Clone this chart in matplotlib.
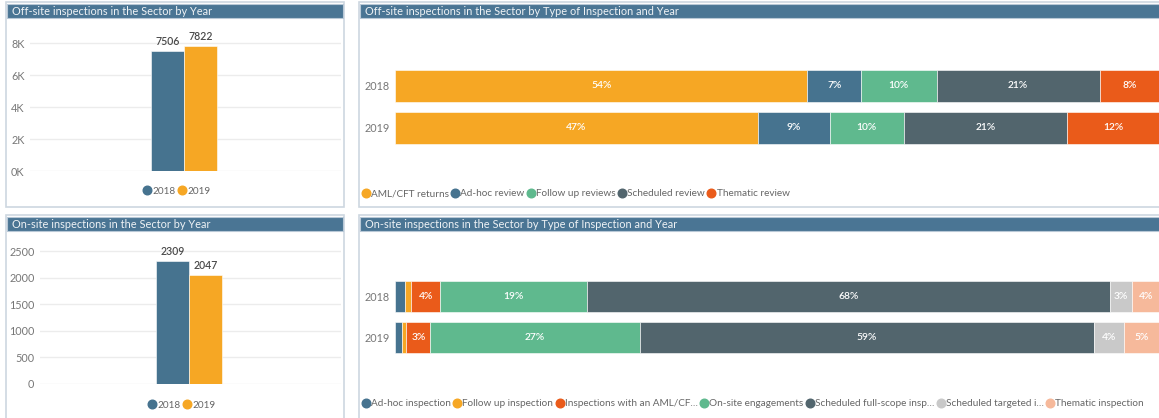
import matplotlib.pyplot as plt
import numpy as np
from matplotlib.patches import Rectangle
from matplotlib.lines import Line2D

# data
years = ['2018', '2019']
offsite_totals = [7506, 7822]
onsite_totals = [2309, 2047]

offsite_types = ['AML/CFT returns', 'Ad-hoc review', 'Follow up reviews', 'Scheduled review', 'Thematic review']
offsite_2018 = [53.9, 7.0, 9.9, 21.3, 7.9]
offsite_2019 = [47.4, 9.4, 9.7, 21.3, 12.2]

onsite_types = ['Ad-hoc inspection', 'Follow up inspection', 'Inspections with an AML/CF\u2026',
                'On-site engagements', 'Scheduled full-scope insp\u2026', 'Scheduled targeted i\u2026',
                'Thematic inspection']
onsite_2018 = [1.3, 0.8, 3.8, 19.2, 68.3, 2.9, 3.7]
onsite_2019 = [0.9, 0.6, 3.1, 27.4, 59.4, 3.9, 4.7]

BLUE = '#46738f'
ORANGE = '#f6a724'
GREEN = '#5fb98e'
SLATE = '#52656d'
RED = '#ea5b1a'
LGRAY = '#c9c9c9'
PEACH = '#f6b99b'
TITLE_BG = '#4a7594'
BORDER = '#cdd7e0'
TXT = '#777777'

offsite_colors = [ORANGE, BLUE, GREEN, SLATE, RED]
onsite_colors = [BLUE, ORANGE, RED, GREEN, SLATE, LGRAY, PEACH]

W, H = 1159, 418
plt.rcParams['font.family'] = ['Lato', 'DejaVu Sans']
fig = plt.figure(figsize=(W / 100, H / 100), dpi=100)


def box(x0, y0, x1, y1):
    return [x0 / W, 1 - y1 / H, (x1 - x0) / W, (y1 - y0) / H]


def fpt(x, y):
    return (x / W, 1 - y / H)


def panel(x0, y0, x1, y1, title):
    fig.add_artist(Rectangle(fpt(x0, y1), (x1 - x0) / W, (y1 - y0) / H, transform=fig.transFigure,
                             facecolor='white', edgecolor=BORDER, lw=1.2, zorder=-5))
    fig.add_artist(Rectangle(fpt(x0 + 1, y0 + 16), (x1 - x0 - 2) / W, 14 / H, transform=fig.transFigure,
                             facecolor=TITLE_BG, edgecolor='#b8c8d6', lw=0.8, zorder=-4))
    fig.text(*fpt(x0 + 6, y0 + 9.5), title, color='#eef2f5', fontsize=7.9, va='center', ha='left')


panel(6, 2, 344, 207, 'Off-site inspections in the Sector by Year')
panel(359, 2, 1165, 207, 'Off-site inspections in the Sector by Type of Inspection and Year')
panel(6, 215, 344, 425, 'On-site inspections in the Sector by Year')
panel(359, 215, 1165, 425, 'On-site inspections in the Sector by Type of Inspection and Year')


def legend(handles, labels, loc, xy):
    fig.legend(handles, labels, loc=loc, bbox_to_anchor=fpt(*xy), ncol=len(labels), frameon=False,
               handlelength=0.75, handletextpad=0.15, columnspacing=0.25, fontsize=7.2,
               labelcolor='#666666', borderaxespad=0, borderpad=0)


def year_bars(rect, totals, ymax, ticks, ticklabels, center_px, x0px, x1px, legend_xy):
    ax = fig.add_axes(rect)
    bw = 33
    ax.set_xlim((x0px - center_px) / bw, (x1px - center_px) / bw)
    ax.set_ylim(0, ymax)
    xs = [-0.5, 0.5]
    bars = ax.bar(xs, totals, width=1.0, color=[BLUE, ORANGE], edgecolor='white', lw=0.4, zorder=3)
    for b, v in zip(bars, totals):
        ax.annotate(str(v), (b.get_x() + b.get_width() / 2, v), xytext=(0, 3), textcoords='offset points',
                    ha='center', va='bottom', fontsize=7.6, color='#4a4a4a', fontweight='semibold')
    ax.set_yticks(ticks)
    ax.set_yticklabels(ticklabels)
    ax.yaxis.grid(True, color='#ececec', lw=1)
    ax.set_axisbelow(True)
    ax.set_xticks([])
    for s in ax.spines.values():
        s.set_visible(False)
    ax.tick_params(axis='y', length=0, labelsize=7.8, labelcolor=TXT, pad=4)
    ax.patch.set_alpha(0)
    handles = [Line2D([], [], marker='o', ls='', color=c, markersize=6.2) for c in [BLUE, ORANGE]]
    legend(handles, years, 'center', legend_xy)


year_bars(box(30, 27, 341, 171), offsite_totals, 9000, [0, 2000, 4000, 6000, 8000],
          ['0K', '2K', '4K', '6K', '8K'], 184, 30, 341, (177, 191))
year_bars(box(40, 238, 341, 384), onsite_totals, 2745, [0, 500, 1000, 1500, 2000, 2500],
          ['0', '500', '1000', '1500', '2000', '2500'], 189, 40, 341, (182, 405))


def stacked(rect, rows, labels, colors, legend_xy):
    ax = fig.add_axes(rect)
    data = np.array(rows)
    left = np.zeros(len(rows))
    ys = np.arange(len(rows))
    for j, (lab, c) in enumerate(zip(labels, colors)):
        vals = data[:, j]
        ax.barh(ys, vals, left=left, height=0.76, color=c, edgecolor='white', lw=0.4, label=lab)
        for y, l, v in zip(ys, left, vals):
            if v >= 2.5:
                ax.text(l + v / 2, y, f'{round(v)}%', ha='center', va='center', color='white',
                        fontsize=7.4, fontweight='semibold')
        left += vals
    ax.set_xlim(0, 100)
    ax.set_ylim(len(rows) - 0.5, -0.5)
    ax.set_yticks(ys)
    ax.set_yticklabels(years)
    ax.set_xticks([])
    for s in ax.spines.values():
        s.set_visible(False)
    ax.tick_params(axis='y', length=0, labelsize=7.8, labelcolor=TXT, pad=4)
    ax.patch.set_alpha(0)
    handles = [Line2D([], [], marker='o', ls='', color=c, markersize=6.2) for c in colors]
    legend(handles, labels, 'center left', legend_xy)


stacked(box(395, 65, 1160, 149), [offsite_2018, offsite_2019], offsite_types, offsite_colors, (362, 194))
stacked(box(395, 276, 1160, 358), [onsite_2018, onsite_2019], onsite_types, onsite_colors, (362, 404))

fig.savefig('out.png', dpi=100, facecolor='white')
